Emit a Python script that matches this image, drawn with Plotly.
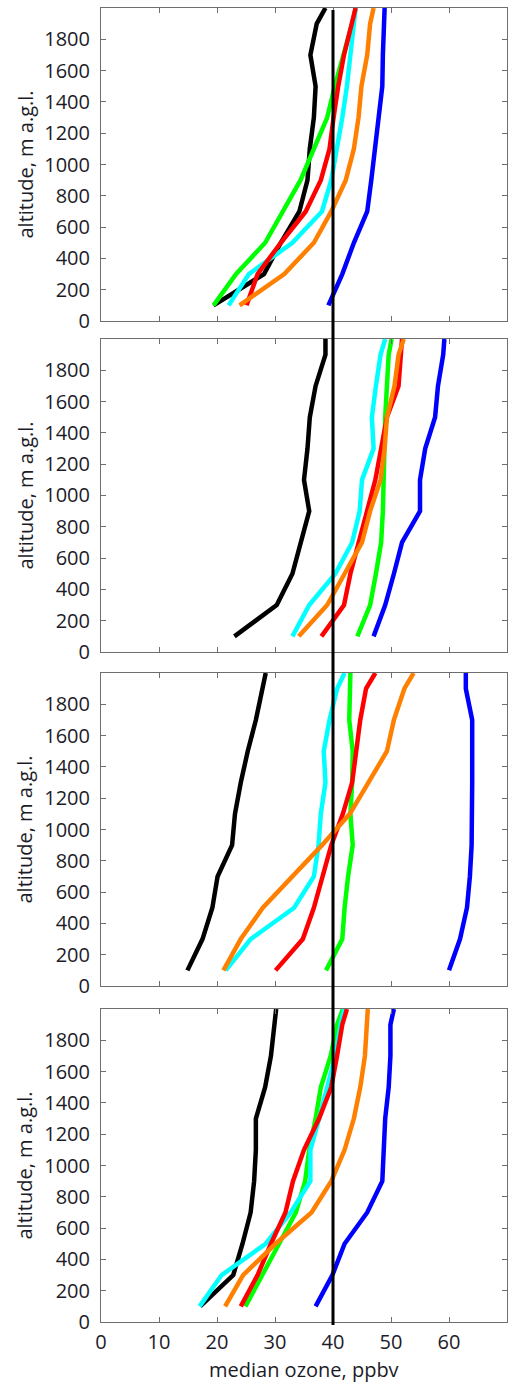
import plotly.graph_objects as go

# Altitude levels (m a.g.l.) shared by every profile
altitude = [100, 300, 500, 700, 900, 1100, 1300, 1500, 1700, 1900, 2000]

# Median ozone profiles (ppbv), one dict per panel, top to bottom
panel1 = {
    "black":  [19.4, 28.1, 31.0, 34.2, 35.6, 36.0, 36.7, 37.0, 36.1, 37.2, 38.7],
    "green":  [19.4, 23.3, 28.3, 31.4, 34.4, 36.7, 39.0, 40.3, 41.9, 43.3, 43.9],
    "cyan":   [22.0, 25.5, 33.0, 38.1, 39.7, 40.7, 41.6, 42.4, 43.0, 43.6, 43.9],
    "red":    [25.1, 27.0, 31.0, 35.3, 37.9, 39.4, 40.1, 40.9, 41.9, 43.3, 43.9],
    "orange": [23.9, 31.6, 36.7, 39.7, 42.2, 43.6, 44.4, 44.9, 45.9, 46.4, 47.0],
    "blue":   [39.2, 41.6, 43.6, 45.9, 46.6, 47.2, 47.8, 48.5, 48.6, 48.9, 48.9],
}
panel2 = {
    "black":  [23.0, 30.3, 33.0, 34.4, 35.9, 35.0, 35.6, 36.0, 37.0, 38.7, 38.7],
    "green":  [44.2, 46.4, 47.4, 48.3, 48.6, 48.7, 48.9, 49.0, 49.3, 49.6, 50.1],
    "cyan":   [33.0, 35.9, 40.4, 43.3, 44.6, 45.0, 47.0, 46.7, 47.4, 48.2, 49.0],
    "red":    [38.0, 41.9, 43.0, 44.4, 45.9, 47.3, 48.3, 49.3, 51.3, 51.6, 51.9],
    "orange": [34.1, 39.0, 42.0, 45.0, 46.4, 48.2, 48.9, 49.3, 50.6, 51.3, 52.2],
    "blue":   [47.0, 49.0, 50.5, 51.9, 55.0, 55.0, 55.9, 57.6, 58.1, 59.0, 59.2],
}
panel3 = {
    "black":  [14.9, 17.5, 19.2, 20.1, 22.6, 23.1, 24.1, 25.3, 26.7, 27.9, 28.4],
    "green":  [38.8, 41.6, 42.0, 42.6, 43.4, 43.0, 43.3, 43.4, 42.8, 42.9, 43.0],
    "cyan":   [21.5, 25.8, 33.3, 36.7, 37.5, 37.9, 38.7, 38.4, 39.4, 40.7, 42.0],
    "red":    [30.1, 34.8, 36.7, 38.1, 39.7, 41.7, 43.3, 44.0, 44.7, 45.7, 47.3],
    "orange": [21.1, 24.1, 27.9, 33.1, 38.1, 42.9, 46.2, 49.3, 50.5, 52.3, 53.9],
    "blue":   [60.0, 61.9, 63.1, 63.6, 63.9, 64.0, 64.0, 64.0, 64.0, 62.9, 62.9],
}
panel4 = {
    "black":  [17.1, 22.8, 24.4, 25.8, 26.4, 26.7, 26.7, 28.3, 29.3, 30.0, 30.2],
    "green":  [24.9, 27.8, 30.7, 33.6, 35.2, 35.9, 37.0, 37.9, 39.6, 40.7, 41.7],
    "cyan":   [17.0, 20.8, 28.4, 32.7, 36.1, 36.1, 37.6, 39.0, 40.4, 41.3, 41.9],
    "red":    [24.1, 27.0, 29.3, 31.8, 33.1, 35.0, 37.6, 39.7, 40.7, 41.6, 42.4],
    "orange": [21.4, 24.5, 30.1, 36.3, 39.7, 42.0, 43.6, 44.7, 45.5, 45.9, 46.0],
    "blue":   [37.0, 39.9, 42.0, 45.9, 48.5, 48.7, 49.0, 49.6, 49.9, 49.9, 50.5],
}
panels = [panel1, panel2, panel3, panel4]

reference_ozone = 40

x_ticks = [0, 10, 20, 30, 40, 50, 60]
y_ticks = [0, 200, 400, 600, 800, 1000, 1200, 1400, 1600, 1800]

colors = {
    "black": "#000000",
    "green": "#00ff00",
    "cyan": "#00ffff",
    "red": "#ff0000",
    "orange": "#ff8000",
    "blue": "#0000ff",
}

# Vertical domains of the four stacked panels (paper fraction), top panel first
domains = [
    [0.7618, 1.0],
    [0.5099, 0.7481],
    [0.2557, 0.4939],
    [0.0, 0.2382],
]

W, H = 509, 1382
ML, MR, MT, MB = 101, 2, 8, 60
plot_w = W - ML - MR
plot_h = H - MT - MB

font_family = "Open Sans, sans-serif"
font_size = 20
text_color = "#1c1c28"
frame_color = "#6e6e6e"

fig = go.Figure()
layout = dict(
    width=W, height=H,
    margin=dict(l=ML, r=MR, t=MT, b=MB, pad=0),
    paper_bgcolor="white", plot_bgcolor="white",
    showlegend=False,
    font=dict(family=font_family, size=font_size, color=text_color),
)

for i, (panel, dom) in enumerate(zip(panels, domains)):
    n = i + 1
    xa = "x" if n == 1 else f"x{n}"
    ya = "y" if n == 1 else f"y{n}"
    for name, vals in panel.items():
        fig.add_trace(go.Scatter(
            x=vals, y=altitude, mode="lines",
            line=dict(color=colors[name], width=4.5),
            xaxis=xa, yaxis=ya, cliponaxis=True, hoverinfo="skip",
        ))
    xkey = "xaxis" if n == 1 else f"xaxis{n}"
    ykey = "yaxis" if n == 1 else f"yaxis{n}"
    layout[xkey] = dict(
        domain=[0, 1], anchor=ya, range=[0, 70],
        tickvals=x_ticks, ticks="inside", ticklen=5, tickwidth=1,
        tickcolor=frame_color, showline=True, linecolor=frame_color,
        linewidth=1, mirror="ticks", showgrid=False, zeroline=False,
        showticklabels=(n == 4), ticklabelstandoff=2,
        tickfont=dict(size=font_size, color=text_color),
    )
    if n != 1:
        layout[xkey]["matches"] = "x"
    layout[ykey] = dict(
        domain=dom, anchor=xa, range=[0, 2000],
        tickvals=y_ticks, ticks="inside", ticklen=5, tickwidth=1,
        tickcolor=frame_color, showline=True, linecolor=frame_color,
        linewidth=1, mirror="ticks", showgrid=False, zeroline=False,
        ticklabelstandoff=6,
        tickfont=dict(size=font_size, color=text_color),
    )

fig.update_layout(**layout)

# Axis titles
annotations = []
for dom in domains:
    annotations.append(dict(
        text="altitude, m a.g.l.", textangle=-90,
        xref="paper", yref="paper",
        x=(25 - ML) / plot_w, y=(dom[0] + dom[1]) / 2,
        xanchor="center", yanchor="middle", showarrow=False,
        font=dict(size=font_size, color=text_color),
    ))
annotations.append(dict(
    text="median ozone, ppbv",
    xref="paper", yref="paper",
    x=0.5, y=-(1369 - (H - MB)) / plot_h,
    xanchor="center", yanchor="middle", showarrow=False,
    font=dict(size=font_size, color=text_color),
))
fig.update_layout(annotations=annotations)

# Reference ozone level drawn across all panels
fig.add_shape(
    type="line", xref="x", yref="paper",
    x0=reference_ozone, x1=reference_ozone,
    y0=-3 / plot_h, y1=1 - 2 / plot_h,
    line=dict(color="black", width=3),
)

fig.write_html("out.html")
